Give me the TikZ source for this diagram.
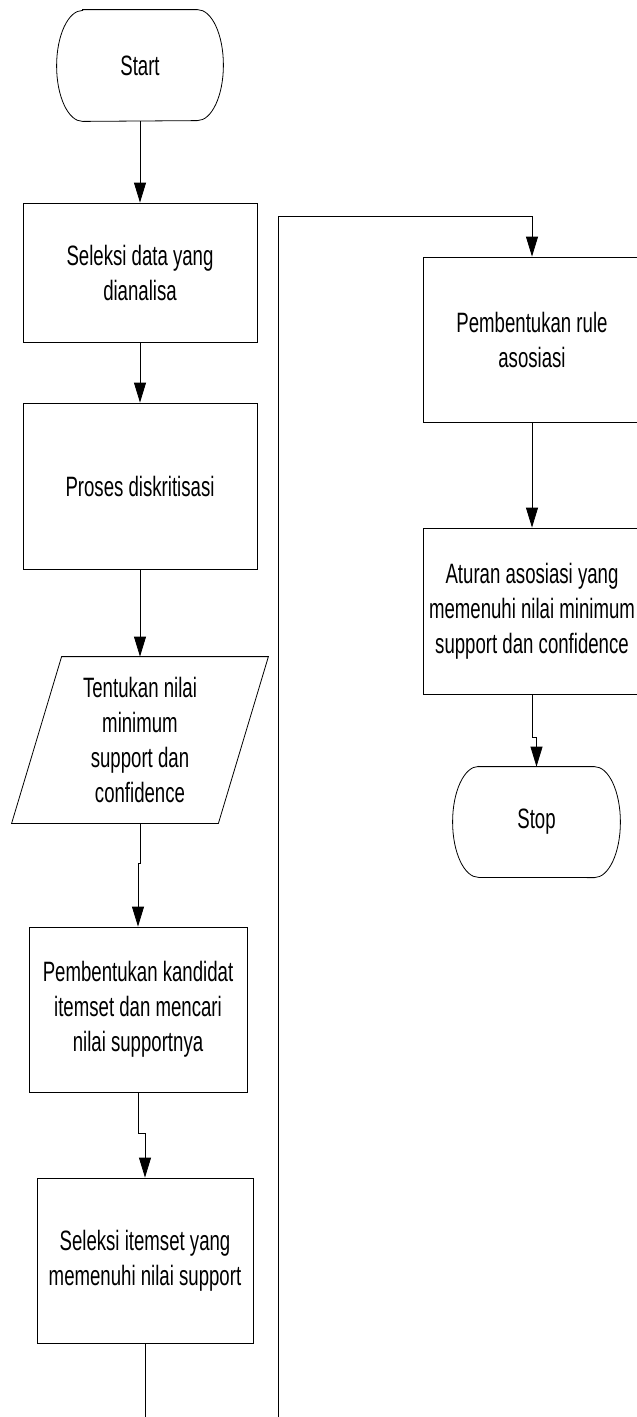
\documentclass[tikz,border=0pt]{standalone}
\usepackage{fontspec}
\setmainfont{Liberation Sans}[FakeStretch=0.665]
\usetikzlibrary{arrows.meta,calc}
\newcommand\myterm[1]{%
  \draw ([xshift=26pt]#1.north west) -- ([xshift=-26pt]#1.north east)
    arc[start angle=90,end angle=-90,x radius=26pt,y radius=55.5pt]
    -- ([xshift=26pt]#1.south west)
    arc[start angle=270,end angle=90,x radius=26pt,y radius=55.5pt] -- cycle;}
\begin{document}
\begin{tikzpicture}[x=1pt,y=1pt,line width=0.8pt,
  txt/.style={align=center,inner sep=0pt,font=\fontsize{28}{35}\selectfont},
  proc/.style={txt,draw},
  flow/.style={-{Triangle[length=20pt,width=12pt]}}]
\useasboundingbox (0,0) rectangle (637,-1417);
\clip (0,0) rectangle (637,-1417);
% left column
\node[txt,minimum width=166pt,minimum height=111pt] (start) at (140,-65.5) {Start};
\myterm{start}
\node[proc,minimum width=234pt,minimum height=139pt] (sel) at (140,-272.5) {Seleksi data yang\\dianalisa};
\node[proc,minimum width=234pt,minimum height=166pt] (pros) at (140,-486) {Proses diskritisasi};
\node[txt,minimum width=206pt,minimum height=166pt] (param) at (140,-740) {Tentukan nilai\\minimum\\support dan\\confidence};
\draw ([xshift=25pt]param.north west) -- ([xshift=25pt]param.north east)
  -- ([xshift=-25pt]param.south east) -- ([xshift=-25pt]param.south west) -- cycle;
\node[proc,minimum width=218pt,minimum height=165pt] (kand) at (138,-1009.5) {Pembentukan kandidat\\itemset dan mencari\\nilai supportnya};
\node[proc,minimum width=216pt,minimum height=165pt] (item) at (145,-1260.5) {Seleksi itemset yang\\memenuhi nilai support};
% right column
\node[proc,minimum width=218pt,minimum height=165pt] (rule) at (532,-339.5) {Pembentukan rule\\asosiasi};
\node[proc,minimum width=218pt,minimum height=166pt] (atur) at (532,-611) {Aturan asosiasi yang\\memenuhi nilai minimum\\support dan confidence};
\node[txt,minimum width=167pt,minimum height=110pt] (stop) at (536.5,-822) {Stop};
\myterm{stop}
% connectors
\coordinate (b1) at (145,-1417);
\coordinate (b2) at (278,-1417);
\coordinate (c2) at (278,-216);
\draw[flow] (start.south) -- (sel.north);
\draw[flow] (sel.south) -- (pros.north);
\draw[flow] (pros.south) -- (param.north);
\draw[flow] (param.south) -- ++(0,-40) -| (kand.north);
\draw[flow] (kand.south) -- ++(0,-41) -| (item.north);
\draw (item.south) -- (b1);
\draw[flow] (b2) -- (c2) -| (rule.north);
\draw[flow] (rule.south) -- (atur.north);
\draw[flow] (atur.south) -- ++(0,-43) -| (stop.north);
\end{tikzpicture}
\end{document}
